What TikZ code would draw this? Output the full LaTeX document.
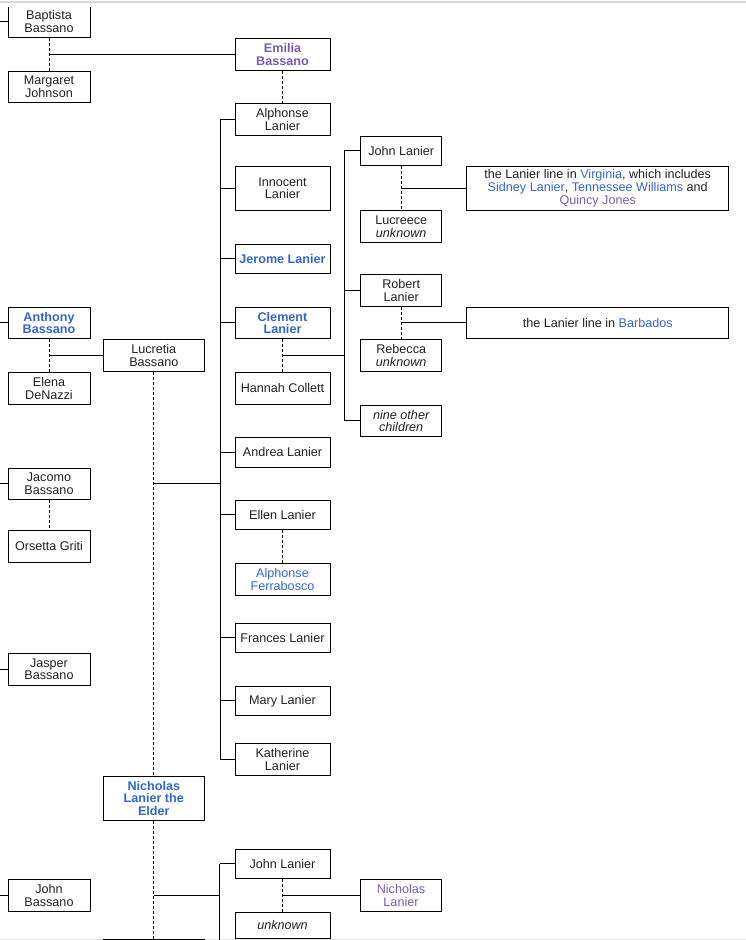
\documentclass[tikz,border=0pt]{standalone}
\usepackage{fontspec}
\setmainfont{Liberation Sans}
\usetikzlibrary{calc}
\definecolor{lk}{HTML}{3366CC}
\definecolor{vis}{HTML}{795CB2}
\definecolor{tx}{HTML}{202122}
\definecolor{uigray}{HTML}{D8D8D8}
\definecolor{uilight}{HTML}{E6E6E6}
\begin{document}
\begin{tikzpicture}[x=1pt,y=-1pt,
  box/.style={draw=black, line width=1pt, align=center, inner sep=0pt, text=tx,
    font=\fontsize{12.6}{12.6}\selectfont},
  lcol/.style={box, minimum width=82pt},
  mcol/.style={box, minimum width=95pt},
  ccol/.style={box, minimum width=101pt},
  rcol/.style={box, minimum width=81pt},
  fcol/.style={box, minimum width=262pt},
  blue/.style={text=lk},
  visited/.style={text=vis},
  boldname/.style={font=\fontsize{12.6}{12.6}\selectfont\bfseries},
  conn/.style={draw=black, line width=1pt},
  dsh/.style={draw=black, line width=1pt, dash pattern=on 3pt off 2pt}
]
\useasboundingbox (0,0) rectangle (746,940);
\draw[uigray, line width=2pt] (0,1.5) -- (746,1.5);
\draw[uilight, line width=1pt] (0,939.5) -- (746,939.5);
\begin{scope}
\clip (0,7) rectangle (746,940);
\coordinate (edge) at (0,0);
\coordinate (bus1) at (220,0);
\coordinate (bus2) at (344.3,0);
\coordinate (bus3) at (219.5,0);

% left column
\node[lcol, minimum height=31pt] (baptista) at (49,21.5) {Baptista\\Bassano};
\node[lcol, minimum height=31pt] (margaret) at (49,86.5) {Margaret\\Johnson};
\node[lcol, minimum height=31pt, blue, boldname] (anthony) at (49,322.8) {Anthony\\Bassano};
\node[lcol, minimum height=32pt] (elena) at (49,388.3) {Elena\\DeNazzi};
\node[lcol, minimum height=31pt] (jacomo) at (49,483.8) {Jacomo\\Bassano};
\node[lcol, minimum height=32pt] (orsetta) at (49,546.3) {Orsetta Griti};
\node[lcol, minimum height=32pt] (jasper) at (49,669.3) {Jasper\\Bassano};
\node[lcol, minimum height=32pt] (johnb) at (49,895.3) {John\\Bassano};

% centre-left column
\node[ccol, minimum height=32pt] (lucretia) at (153.8,355.3) {Lucretia\\Bassano};
\node[ccol, minimum height=44pt, blue, boldname] (elder) at (153.8,798.3) {Nicholas\\Lanier the\\Elder};
\node[ccol, minimum height=32pt] (nextc) at (153.8,955) {};

% middle column
\node[mcol, minimum height=32pt, visited, boldname] (emilia) at (282.5,54.5) {Emilia\\Bassano};
\node[mcol, minimum height=32pt] (alphonse) at (282.5,119.5) {Alphonse\\Lanier};
\node[mcol, minimum height=44pt] (innocent) at (282.5,188.3) {Innocent\\Lanier};
\node[mcol, minimum height=29pt, blue, boldname] (jerome) at (282.5,258.8) {Jerome Lanier};
\node[mcol, minimum height=31pt, blue, boldname] (clement) at (282.5,322.8) {Clement\\Lanier};
\node[mcol, minimum height=32pt] (hannah) at (282.5,388.3) {Hannah Collett};
\node[mcol, minimum height=30pt] (andrea) at (282.5,452.3) {Andrea Lanier};
\node[mcol, minimum height=29pt] (ellen) at (282.5,514.8) {Ellen Lanier};
\node[mcol, minimum height=32pt, blue] (ferrabosco) at (282.5,579.3) {Alphonse\\Ferrabosco};
\node[mcol, minimum height=29pt] (frances) at (282.5,637.8) {Frances Lanier};
\node[mcol, minimum height=29pt] (mary) at (282.5,700.8) {Mary Lanier};
\node[mcol, minimum height=32pt] (katherine) at (282.5,759.3) {Katherine\\Lanier};
\node[mcol, minimum height=29pt] (johnltwo) at (282.5,863.8) {John Lanier};
\node[mcol, minimum height=26pt] (unknownb) at (282.5,925.3) {\itshape unknown};

% right column
\node[rcol, minimum height=29pt] (johnl) at (401.2,150.8) {John Lanier};
\node[rcol, minimum height=32pt] (lucreece) at (401.2,226.7) {Lucreece\\\itshape unknown};
\node[rcol, minimum height=32pt] (robert) at (401.2,290.3) {Robert\\Lanier};
\node[rcol, minimum height=32pt] (rebecca) at (401.2,355.2) {Rebecca\\\itshape unknown};
\node[rcol, minimum height=31pt] (nine) at (401.2,420.8) {\itshape nine other\\\itshape children};
\node[rcol, minimum height=32pt, visited] (nicholas) at (401,895.3) {Nicholas\\Lanier};

% far right column
\node[fcol, minimum height=44pt] (virginia) at (597.7,188.2)
  {the Lanier line in \textcolor{lk}{Virginia}, which includes\\
   \textcolor{lk}{Sidney Lanier}, \textcolor{lk}{Tennessee Williams} and\\
   \textcolor{vis}{Quincy Jones}};
\node[fcol, minimum height=31pt] (barbados) at (597.7,322.8)
  {the Lanier line in \textcolor{lk}{Barbados}};

% stubs from the left edge
\foreach \n in {baptista,anthony,jacomo,jasper,johnb}
  \draw[conn] (\n.west -| edge) -- (\n.west);

% Baptista + Margaret -> Emilia
\draw[dsh] (baptista.south) -- (margaret.north);
\draw[conn] (baptista.south |- emilia.west) -- (emilia.west);
\draw[dsh] (emilia.south) -- (alphonse.north);

% Anthony + Elena -> Lucretia
\draw[dsh] (anthony.south) -- (elena.north);
\draw[conn] (anthony.south |- lucretia.west) -- (lucretia.west);

% Jacomo + Orsetta
\draw[dsh] (jacomo.south) -- (orsetta.north);

% Lucretia + Nicholas the Elder
\draw[dsh] (lucretia.south) -- (elder.north);
\coordinate (elderend) at ($(elder.south)+(0,150)$);
\draw[dsh] (elder.south) -- (elderend);
\path (lucretia.south) ++(0,111.4) coordinate (lnj);
\draw[conn] (lnj) -- (lnj -| bus1);
\draw[conn] (alphonse.west -| bus1) -- (katherine.west -| bus1);
\foreach \n in {alphonse,innocent,jerome,clement,andrea,ellen,frances,mary,katherine}
  \draw[conn] (\n.west -| bus1) -- (\n.west);

% Ellen + Ferrabosco
\draw[dsh] (ellen.south) -- (ferrabosco.north);

% Clement + Hannah -> children
\draw[dsh] (clement.south) -- (hannah.north);
\coordinate (chj) at ($(clement.south)!0.5!(hannah.north)$);
\draw[conn] (chj) -- (chj -| bus2);
\draw[conn] (johnl.west -| bus2) -- (nine.west -| bus2);
\foreach \n in {johnl,robert,nine}
  \draw[conn] (\n.west -| bus2) -- (\n.west);

% John + Lucreece -> Virginia
\draw[dsh] (johnl.south) -- (lucreece.north);
\draw[conn] (johnl.south |- virginia.west) -- (virginia.west);
% Robert + Rebecca -> Barbados
\draw[dsh] (robert.south) -- (rebecca.north);
\draw[conn] (robert.south |- barbados.west) -- (barbados.west);

% lower family
\path (elder.south) ++(0,74.7) coordinate (enj);
\draw[conn] (enj) -- (enj -| bus3);
\coordinate (bus3end) at ($(johnltwo.west -| bus3)+(0,100)$);
\draw[conn] (johnltwo.west -| bus3) -- (bus3end);
\draw[conn] (johnltwo.west -| bus3) -- (johnltwo.west);
\draw[dsh] (johnltwo.south) -- (unknownb.north);
\draw[conn] (johnltwo.south |- nicholas.west) -- (nicholas.west);
\end{scope}
\end{tikzpicture}
\end{document}
